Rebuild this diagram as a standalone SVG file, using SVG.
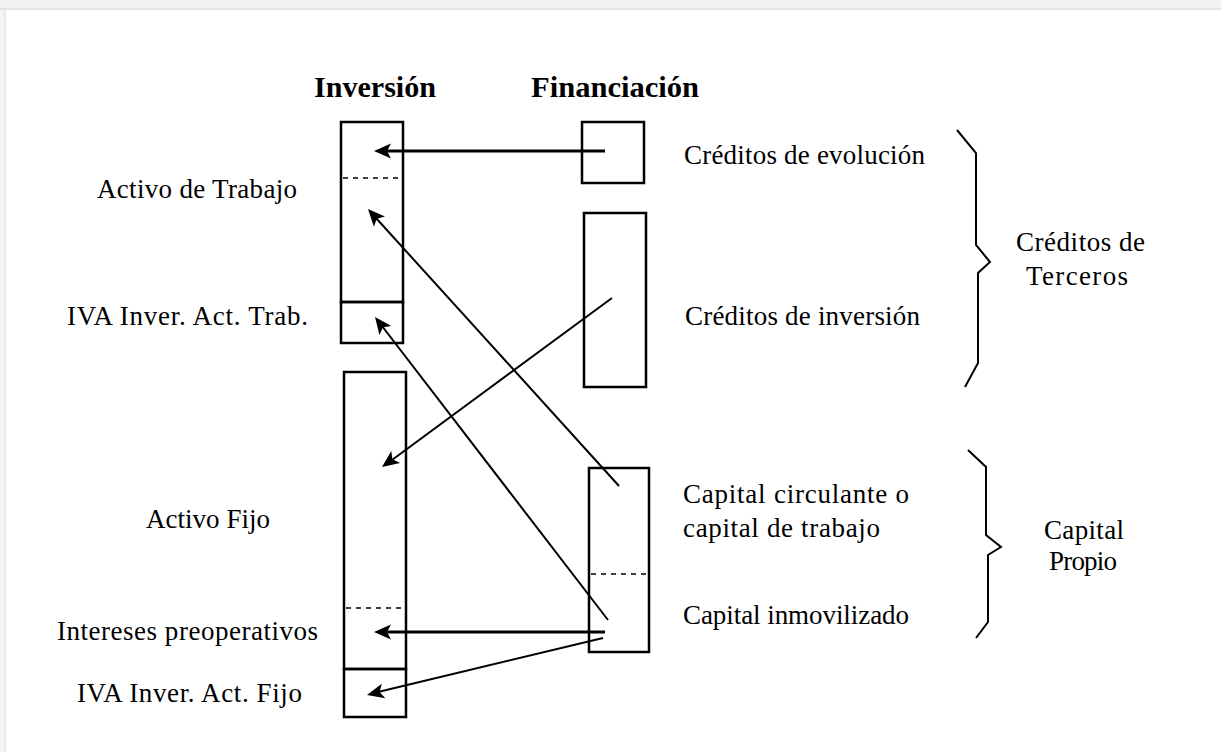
<svg xmlns="http://www.w3.org/2000/svg" width="1221" height="752" viewBox="0 0 1221 752">
<defs>
<style>
.box{fill:none;stroke:#000;stroke-width:2.5}
.dash{stroke:#000;stroke-width:1.5;stroke-dasharray:5 5}
.conn{stroke:#000;stroke-width:2;fill:none}
.conn2{stroke:#000;stroke-width:2.8;fill:none}
.brace{stroke:#000;stroke-width:2;fill:none;stroke-linejoin:miter}
.lbl{font-family:"Liberation Serif","Times New Roman",serif;font-size:27px;fill:#000}
.hd{font-family:"Liberation Serif","Times New Roman",serif;font-size:30px;font-weight:bold;fill:#000}
</style>
<path id="head" d="M0,0 L-17,-7.5 L-13,0 L-17,7.5 z" fill="#000"/>
</defs>
<rect width="1221" height="752" fill="#fff"/>
<rect x="0" y="0" width="1221" height="8" fill="#f2f2f2"/>
<rect x="0" y="8" width="1221" height="2" fill="#e6e6e6"/>
<rect x="0" y="10" width="4" height="742" fill="#f4f4f4"/>
<rect x="4" y="10" width="2" height="742" fill="#e9e9e9"/>

<text class="hd" x="314" y="97" textLength="122" lengthAdjust="spacingAndGlyphs">Inversión</text>
<text class="hd" x="531" y="97" textLength="168" lengthAdjust="spacingAndGlyphs">Financiación</text>

<g id="activo-trabajo">
<rect class="box" x="341" y="122" width="62" height="180"/>
<line class="dash" x1="343" y1="178" x2="401" y2="178"/>
<text class="lbl" x="97" y="198" textLength="200">Activo de Trabajo</text>
</g>
<g id="iva-act-trab">
<rect class="box" x="341" y="302" width="62" height="41"/>
<text class="lbl" x="67" y="325" textLength="241">IVA Inver. Act. Trab.</text>
</g>
<g id="activo-fijo">
<rect class="box" x="344" y="372" width="62" height="297"/>
<line class="dash" x1="346" y1="608" x2="404" y2="608"/>
<text class="lbl" x="146" y="528" textLength="124">Activo Fijo</text>
<text class="lbl" x="57" y="640" textLength="261">Intereses preoperativos</text>
</g>
<g id="iva-act-fijo">
<rect class="box" x="344" y="669" width="62" height="48"/>
<text class="lbl" x="77" y="702" textLength="225">IVA Inver. Act. Fijo</text>
</g>

<g id="creditos-evolucion">
<rect class="box" x="582" y="122" width="62" height="61"/>
<text class="lbl" x="684" y="164" textLength="241">Créditos de evolución</text>
</g>
<g id="creditos-inversion">
<rect class="box" x="584" y="213" width="62" height="174"/>
<text class="lbl" x="685" y="325" textLength="235">Créditos de inversión</text>
</g>
<g id="capital">
<rect class="box" x="589" y="468" width="60" height="184"/>
<line class="dash" x1="591" y1="574" x2="647" y2="574"/>
<text class="lbl" x="683" y="503" textLength="226">Capital circulante o</text>
<text class="lbl" x="683" y="537" textLength="197">capital de trabajo</text>
<text class="lbl" x="683" y="624" textLength="226">Capital inmovilizado</text>
</g>

<g id="creditos-terceros">
<path class="brace" d="M957,130 L976,153 L976,245 L990,262 L978,273 L978,363 L965,387"/>
<text class="lbl" x="1016" y="251" textLength="129">Créditos de</text>
<text class="lbl" x="1026" y="285" textLength="102">Terceros</text>
</g>
<g id="capital-propio">
<path class="brace" d="M968,450 L986,467 L986,535 L1001,547 L988,555 L988,622 L976,638"/>
<text class="lbl" x="1044" y="539" textLength="80">Capital</text>
<text class="lbl" x="1049" y="570" textLength="68">Propio</text>
</g>

<g id="connectors">
<line class="conn2" x1="605" y1="151" x2="386" y2="151"/>
<use href="#head" transform="translate(374,151) rotate(180)"/>
<line class="conn" x1="619" y1="486" x2="376" y2="218"/>
<use href="#head" transform="translate(368,209) rotate(227.8)"/>
<line class="conn" x1="608" y1="620" x2="382" y2="326"/>
<use href="#head" transform="translate(375,317) rotate(232.4)"/>
<line class="conn" x1="612" y1="298" x2="392" y2="460"/>
<use href="#head" transform="translate(382,467) rotate(143.6)"/>
<line class="conn2" x1="605" y1="632" x2="386" y2="632"/>
<use href="#head" transform="translate(374,632) rotate(180)"/>
<line class="conn" x1="603" y1="638" x2="378" y2="692"/>
<use href="#head" transform="translate(367,695) rotate(166.4)"/>
</g>
</svg>
